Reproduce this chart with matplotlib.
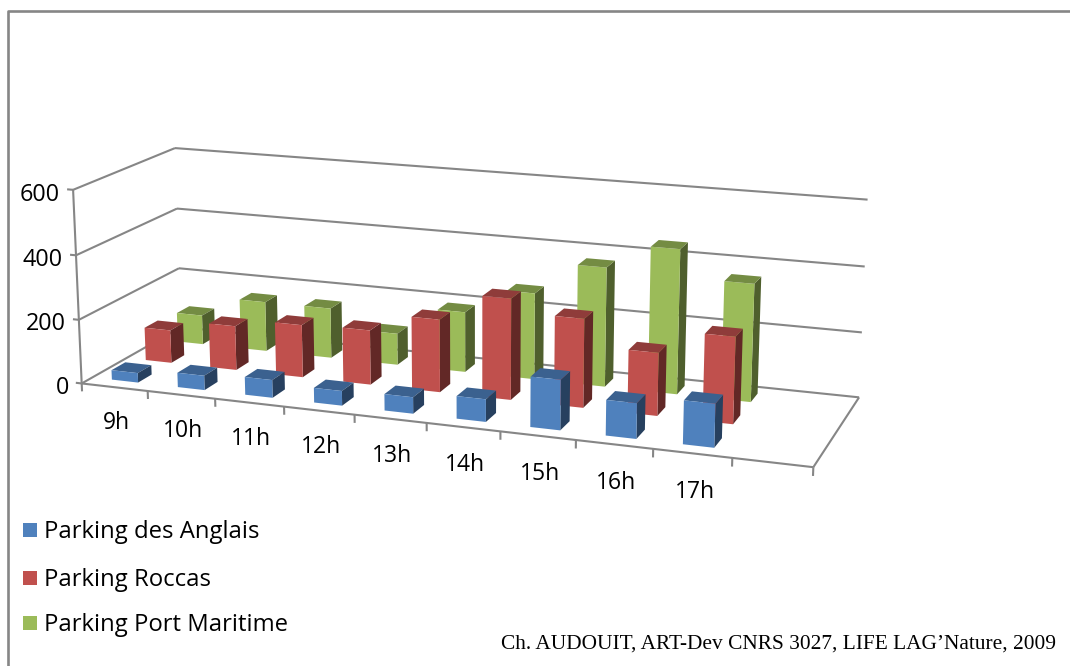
import numpy as np
import matplotlib
matplotlib.use('Agg')
import matplotlib.pyplot as plt
from matplotlib.lines import Line2D
from matplotlib.patches import Rectangle
from mpl_toolkits.mplot3d import art3d

# Datos
hours = ['9h', '10h', '11h', '12h', '13h', '14h', '15h', '16h', '17h']
anglais = [30, 45, 55, 45, 50, 68, 150, 105, 128]
roccas = [105, 140, 165, 170, 225, 310, 270, 190, 260]
maritime = [95, 160, 160, 100, 190, 270, 370, 445, 360]
series_names = ['Parking des Anglais', 'Parking Roccas', 'Parking Port Maritime']
z_ticks = [0, 200, 400, 600]

# front, top, side
blue = ['#4F81BD', '#3B618F', '#27405F']
red = ['#C0504D', '#8F3C3A', '#622826']
green = ['#9BBB59', '#748C43', '#4F5F2D']

W, H = 1070, 666
fig = plt.figure(figsize=(W / 100, H / 100), dpi=100)
ax = fig.add_axes([0, (1 - W / H) / 2, 1, W / H], projection='3d', computed_zorder=False)
ax.set_axis_off()
ax.patch.set_alpha(0)

# Camara: se ajusta a las esquinas de la caja del grafico en la imagen
# (el eje x tiene una categoria vacia al final, x llega a 10)
world = np.array([[0, 0, 0], [10, 0, 0], [10, 3, 0], [0, 3, 0], [1, 0, 0], [9, 0, 0],
                  [0, 0, 200], [0, 0, 400], [0, 0, 600],
                  [0, 3, 200], [0, 3, 400], [0, 3, 600],
                  [10, 3, 200], [10, 3, 400], [10, 3, 600]], dtype=float)
pix = np.array([[82, 383], [813, 467], [859, 398], [181, 328], [147, 390.5], [733, 458],
                [79, 320], [76, 256], [73, 190],
                [179, 268], [177, 208], [175, 148],
                [862, 332], [864, 266], [868, 200]], dtype=float)
S = np.diag([1 / 10, 1 / 3, 1 / 600, 1])
rows = []
for p, (u, v) in zip(world, pix):
    X = S @ np.append(p, 1)
    u, v = u / 1000, (H - v) / 1000
    rows.append(np.r_[X, 0, 0, 0, 0, -u * X])
    rows.append(np.r_[0, 0, 0, 0, X, -v * X])
P = np.linalg.svd(np.array(rows))[2][-1].reshape(3, 4)
P = np.diag([1000, 1000, 1]) @ P @ S
P = P / (P[2] @ np.array([5, 1.5, 300, 1]))

ax.apply_aspect()
Q = np.linalg.inv(ax.transData.get_matrix()) @ P
M = np.vstack([Q[0], Q[1], Q[2] - np.array([0, 0, 0, 1.0]), Q[2]])
ax.get_proj = lambda: M


def label(x, y, z, s, **kw):
    # texto en la posicion proyectada del punto 3D
    a, b, w = P @ np.array([x, y, z, 1.0])
    fig.text(a / w / W, b / w / H, s, va='center', family='Open Sans', color='black', **kw)


grid_c = '#868686'

# Rejilla, paredes y marcas de los ejes
segs = []
for z in z_ticks:
    segs.append([(0, 0, z), (0, 3, z)])
    segs.append([(0, 3, z), (10, 3, z)])
    segs.append([(-0.09, 0, z), (0, 0, z)])
    label(-0.2, 0, z - 18, str(z), ha='right', fontsize=16.8)
segs.append([(0, 0, 0), (0, 0, 600)])
segs.append([(0, 0, 0), (10, 0, 0)])
segs.append([(10, 0, 0), (10, 3, 0)])
for i in range(len(hours) + 2):
    segs.append([(i, 0, 0), (i, 0, -25)])
grid = art3d.Line3DCollection(segs, colors=grid_c, linewidths=1.5, zorder=1)
grid.set_clip_on(False)
ax.add_collection(grid)

for i, h in enumerate(hours):
    label(i + 0.5 + i * 0.005, 0, -112, h, ha='center', fontsize=16.5)

# Barras: fila de atras primero, de izquierda a derecha
bar_w = 0.4
clear = (0, 0, 0, 0)
order = 2
for row, (vals, cols) in reversed(list(enumerate(zip([anglais, roccas, maritime], [blue, red, green])))):
    for i, v in enumerate(vals):
        faces = [clear, cols[1], cols[0], clear, clear, cols[2]]
        bar = ax.bar3d(i + 0.5 - bar_w / 2, row + 0.5 - bar_w / 2, 0, bar_w, bar_w, v,
                       color=faces, shade=False, edgecolor='none', zorder=order)
        bar.set_clip_on(False)
        order += 1

# Leyenda
legend_y = [530, 578, 623]
for name, cols, y in zip(series_names, [blue, red, green], legend_y):
    fig.add_artist(Rectangle((23 / W, 1 - (y + 7) / H), 14 / W, 14 / H, transform=fig.transFigure,
                             facecolor=cols[0], edgecolor='none'))
    fig.text(44 / W, 1 - (y + 2) / H, name, ha='left', va='center', fontsize=17.2, family='Open Sans', color='black')

fig.text(501 / W, 1 - 649 / H, 'Ch. AUDOUIT, ART-Dev CNRS 3027, LIFE LAG\u2019Nature, 2009',
         ha='left', va='baseline', fontsize=15.4, family='Liberation Serif', color='black')

# Marco
fig.add_artist(Line2D([8 / W, 8 / W, 1], [0, 1 - 11 / H, 1 - 11 / H], transform=fig.transFigure,
                      color=grid_c, lw=1.9))

fig.savefig('out.png', dpi=100)
